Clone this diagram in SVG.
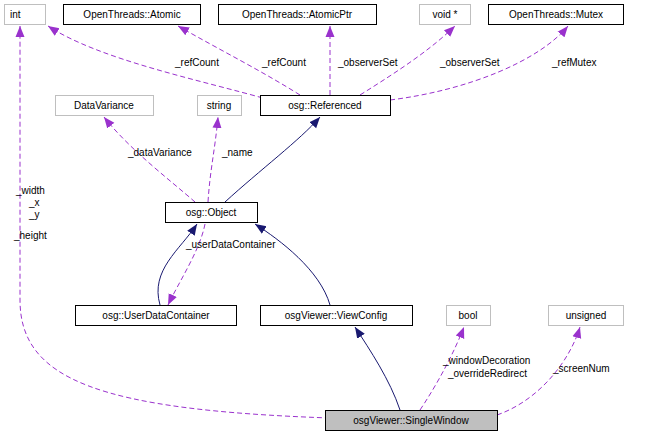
<svg xmlns="http://www.w3.org/2000/svg" width="670" height="441" viewBox="0 0 670 441">
<style>
text{font-family:"Liberation Sans",Arial,sans-serif;font-size:10px;fill:#000}
.b rect{fill:#fff;stroke:#000;stroke-width:1}
.g rect{fill:#fff;stroke:#bfbfbf;stroke-width:1}
.s rect{fill:#bfbfbf;stroke:#000;stroke-width:1}
.d{fill:none;stroke:#9a32cd;stroke-dasharray:5,3}
.i{fill:none;stroke:#191970}
</style>
<defs>
<marker id="ap" markerWidth="12" markerHeight="12" refX="11" refY="6" orient="auto" markerUnits="userSpaceOnUse"><path d="M0,1.5 L11,6 L0,10.5 z" fill="#9a32cd"/></marker>
<marker id="an" markerWidth="12" markerHeight="12" refX="11" refY="6" orient="auto" markerUnits="userSpaceOnUse"><path d="M0,1.5 L11,6 L0,10.5 z" fill="#191970"/></marker>
</defs>
<g id="connectors">
<path class="d" d="M270,100 C200,80 100,60 48,26" marker-end="url(#ap)"/>
<path class="d" d="M300,95 C260,70 220,50 178,26" marker-end="url(#ap)"/>
<path class="d" d="M330,95 L330,26" marker-end="url(#ap)"/>
<path class="d" d="M360,95 C400,70 430,50 455,26" marker-end="url(#ap)"/>
<path class="d" d="M390,100 C470,90 540,60 568,26" marker-end="url(#ap)"/>
<path class="d" d="M195,202 C170,180 130,150 104,117" marker-end="url(#ap)"/>
<path class="d" d="M208,202 C210,170 215,150 218,117" marker-end="url(#ap)"/>
<path class="i" d="M225,202 C260,170 300,140 320,117" marker-end="url(#an)"/>
<path class="i" d="M160,305 C150,270 180,250 197,224" marker-end="url(#an)"/>
<path class="d" d="M205,224 C200,250 180,280 168,305" marker-end="url(#ap)"/>
<path class="i" d="M330,305 C320,270 280,240 255,224" marker-end="url(#an)"/>
<path class="i" d="M400,410 C390,380 370,350 355,327" marker-end="url(#an)"/>
<path class="d" d="M330,418 C100,410 20,380 20,300 L20,26" marker-end="url(#ap)"/>
<path class="d" d="M420,410 C440,380 455,350 464,327" marker-end="url(#ap)"/>
<path class="d" d="M497,415 C540,400 570,360 580,327" marker-end="url(#ap)"/>
</g>
<g id="labels">
<text x="175" y="66">_refCount</text>
<text x="262" y="66">_refCount</text>
<text x="338" y="66">_observerSet</text>
<text x="440" y="66">_observerSet</text>
<text x="552" y="66">_refMutex</text>
<text x="128" y="156">_dataVariance</text>
<text x="222" y="156">_name</text>
<text x="186" y="248">_userDataContainer</text>
<text x="16" y="194">_width</text>
<text x="29" y="206">_x</text>
<text x="29" y="218">_y</text>
<text x="14" y="239">_height</text>
<text x="443" y="364">_windowDecoration</text>
<text x="448" y="377">_overrideRedirect</text>
<text x="553" y="372">_screenNum</text>
</g>
<g id="int" class="g"><rect x="4.5" y="4.5" width="41" height="20"/><text x="10" y="18">int</text></g>
<g id="atomic" class="b"><rect x="63.5" y="4.5" width="137" height="20"/><text x="132" y="18" text-anchor="middle">OpenThreads::Atomic</text></g>
<g id="atomicptr" class="b"><rect x="218.5" y="4.5" width="158" height="20"/><text x="297" y="18" text-anchor="middle">OpenThreads::AtomicPtr</text></g>
<g id="voidp" class="g"><rect x="419.5" y="4.5" width="51" height="20"/><text x="445" y="18" text-anchor="middle">void *</text></g>
<g id="mutex" class="b"><rect x="488.5" y="4.5" width="135" height="20"/><text x="556" y="18" text-anchor="middle">OpenThreads::Mutex</text></g>
<g id="datavariance" class="g"><rect x="55.5" y="95.5" width="98" height="20"/><text x="104" y="109" text-anchor="middle">DataVariance</text></g>
<g id="string" class="g"><rect x="197.5" y="95.5" width="44" height="20"/><text x="219" y="109" text-anchor="middle">string</text></g>
<g id="referenced" class="b"><rect x="260.5" y="95.5" width="130" height="20"/><text x="325" y="109" text-anchor="middle">osg::Referenced</text></g>
<g id="object" class="b"><rect x="165.5" y="202.5" width="92" height="20"/><text x="211" y="216" text-anchor="middle">osg::Object</text></g>
<g id="udc" class="b"><rect x="75.5" y="305.5" width="161" height="20"/><text x="156" y="319" text-anchor="middle">osg::UserDataContainer</text></g>
<g id="viewconfig" class="b"><rect x="260.5" y="305.5" width="152" height="20"/><text x="336" y="319" text-anchor="middle">osgViewer::ViewConfig</text></g>
<g id="bool" class="g"><rect x="446.5" y="305.5" width="44" height="20"/><text x="468" y="319" text-anchor="middle">bool</text></g>
<g id="unsigned" class="g"><rect x="548.5" y="305.5" width="75" height="20"/><text x="586" y="319" text-anchor="middle">unsigned</text></g>
<g id="singlewindow" class="s"><rect x="325.5" y="410.5" width="172" height="20"/><text x="411" y="424" text-anchor="middle">osgViewer::SingleWindow</text></g>
</svg>
